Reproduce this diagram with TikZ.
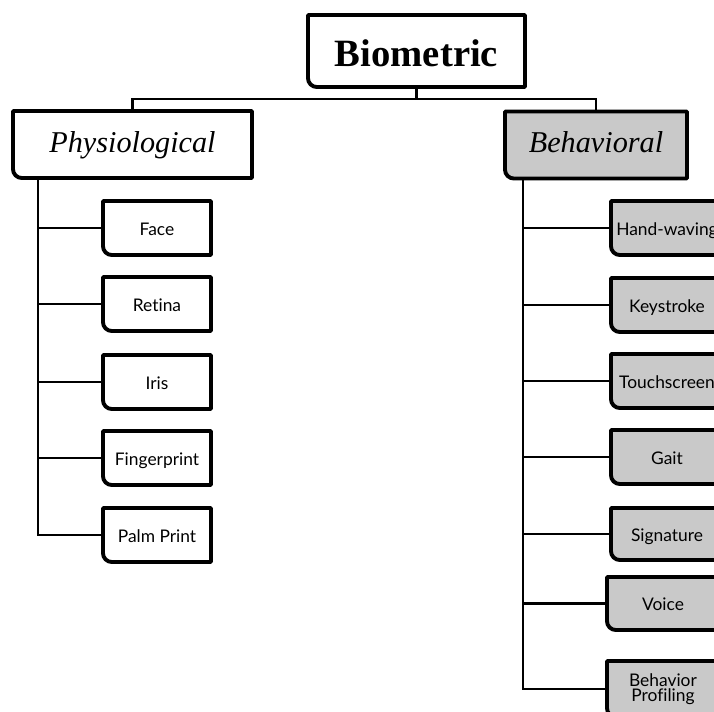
\documentclass[tikz,border=0pt]{standalone}
\usepackage{fontspec}
\setmainfont{Liberation Serif}
\newfontfamily\leaffont[Ligatures=NoCommon]{Lato}
\definecolor{boxgray}{RGB}{201,201,201}
\definecolor{shadowgray}{RGB}{150,150,150}

% outline with rounded top-left and bottom-right corners
\newcommand{\diagbox}[2]{%
  \fill[shadowgray,opacity=0.5,shift={(1.5,2.5)}]
    (#1.north) [sharp corners] -- (#1.north east) -- (#1.south east)
    [rounded corners=5pt] -- (#1.south west) [sharp corners] -- (#1.north west)
    [rounded corners=5pt] -- cycle;
  \filldraw[fill=#2,draw=black,line width=2.2pt,line join=round]
    (#1.north) [sharp corners] -- (#1.north east) -- (#1.south east)
    [rounded corners=5pt] -- (#1.south west) [sharp corners] -- (#1.north west)
    [rounded corners=5pt] -- cycle;
}

\tikzset{
  shape box/.style={inner sep=0pt, outer sep=0pt, align=center},
  rootbox/.style={shape box, minimum width=217*0.02cm, minimum height=72*0.02cm,
    text height=20pt, text depth=2pt,
    font=\fontsize{22}{24}\selectfont\bfseries},
  catbox/.style={shape box, minimum height=67*0.02cm,
    text height=12pt, text depth=3pt,
    font=\fontsize{17.2}{19}\selectfont\itshape},
  leafbox/.style={shape box, minimum width=108*0.02cm, minimum height=54*0.02cm,
    text height=10pt, text depth=2pt,
    font=\leaffont\fontsize{9.9}{11.5}\selectfont},
  rleafbox/.style={leafbox, minimum width=112*0.02cm},
  twoline/.style={rleafbox, minimum height=56*0.02cm, text height=16.7pt, text depth=2pt},
  trunk/.style={line width=1.5pt},
  branch/.style={line width=1.25pt},
  bar/.style={line width=1.2pt},
}

\begin{document}
\begin{tikzpicture}[x=0.02cm,y=-0.02cm]
\useasboundingbox (0,0) rectangle (714,711);

% node placement
\node[rootbox] (bio) at (416.5,51) {Biometric};
\node[catbox, minimum width=239*0.02cm] (phys) at (132.5,144.5) {Physiological};
\node[catbox, minimum width=182*0.02cm] (beh) at (596,145) {Behavioral};

\node[leafbox] (face)   at (157,228) {Face};
\node[leafbox] (retina) at (157,304) {Retina};
\node[leafbox] (iris)   at (157,382) {Iris};
\node[leafbox] (finger) at (157,458) {Fingerprint};
\node[leafbox] (palm)   at (157,535) {Palm Print};

\node[rleafbox] (hand)  at (667,228) {Hand-waving};
\node[rleafbox] (key)   at (667,305) {Keystroke};
\node[rleafbox] (touch) at (667,381) {Touchscreen};
\node[rleafbox] (gait)  at (667,457) {Gait};
\node[rleafbox, minimum height=52*0.02cm] (sign)  at (667,534) {Signature};
\node[rleafbox, minimum height=53*0.02cm] (voice) at (663,603.5) {Voice};
\node[twoline] (prof)  at (663,689) {Behavior\\[-3pt]Profiling};

\coordinate (junction) at (0,99);
\coordinate (lsp) at (38,0);
\coordinate (rsp) at (523,0);

% connectors
\draw[bar] (bio.south) -- (junction -| bio.south);
\draw[bar] (phys.north) |- (junction -| bio.south) -| (beh.north);

\draw[trunk] (phys.south -| lsp) -- (palm.west -| lsp) -- (palm.west);
\foreach \n in {face,retina,iris,finger}
  \draw[branch] (\n.west -| lsp) -- (\n.west);

\draw[trunk] (beh.south -| rsp) -- (prof.west -| rsp) -- (prof.west);
\foreach \n in {hand,key,touch,gait,sign,voice}
  \draw[branch] (\n.west -| rsp) -- (\n.west);

% box outlines
\diagbox{bio}{white}
\diagbox{phys}{white}
\diagbox{beh}{boxgray}
\foreach \n in {face,retina,iris,finger,palm}{\diagbox{\n}{white}}
\foreach \n in {hand,key,touch,gait,sign,voice,prof}{\diagbox{\n}{boxgray}}

% labels on top of the outlines
\node[rootbox] at (bio) {Biometric};
\node[catbox, minimum width=239*0.02cm] at (phys) {Physiological};
\node[catbox, minimum width=182*0.02cm] at (beh) {Behavioral};
\node[leafbox] at (face) {Face};
\node[leafbox] at (retina) {Retina};
\node[leafbox] at (iris) {Iris};
\node[leafbox] at (finger) {Fingerprint};
\node[leafbox] at (palm) {Palm Print};
\node[rleafbox] at (hand) {Hand-waving};
\node[rleafbox] at (key) {Keystroke};
\node[rleafbox] at (touch) {Touchscreen};
\node[rleafbox] at (gait) {Gait};
\node[rleafbox] at (sign) {Signature};
\node[rleafbox] at (voice) {Voice};
\node[twoline] at (prof) {Behavior\\[-3pt]Profiling};
\end{tikzpicture}
\end{document}
